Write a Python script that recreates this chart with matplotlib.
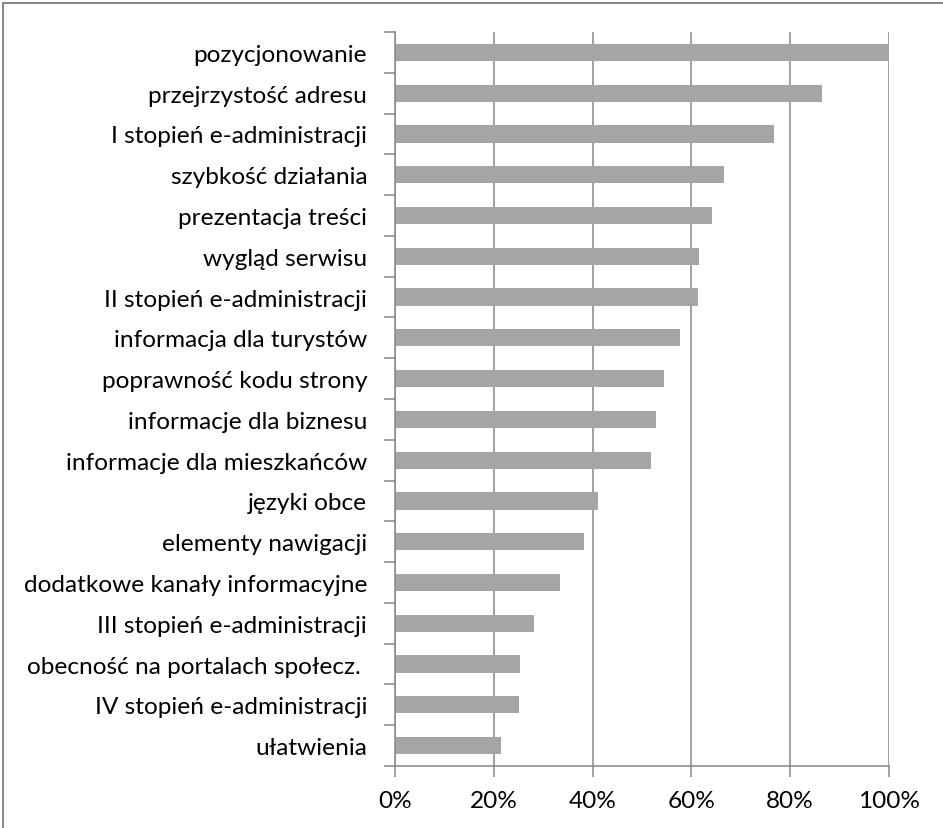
import matplotlib
matplotlib.use("Agg")
import matplotlib.pyplot as plt
from matplotlib.patches import Rectangle
from matplotlib.ticker import FixedLocator, PercentFormatter

categories = [
    "pozycjonowanie",
    "przejrzystość adresu",
    "I stopień e-administracji",
    "szybkość działania",
    "prezentacja treści",
    "wygląd serwisu",
    "II stopień e-administracji",
    "informacja dla turystów",
    "poprawność kodu strony",
    "informacje dla biznesu",
    "informacje dla mieszkańców",
    "języki obce",
    "elementy nawigacji",
    "dodatkowe kanały informacyjne",
    "III stopień e-administracji",
    "obecność na portalach społecz. ",
    "IV stopień e-administracji",
    "ułatwienia",
]
values = [100.0, 86.5, 76.7, 66.7, 64.1, 61.5, 61.4, 57.7, 54.4, 52.8,
          51.9, 41.1, 38.3, 33.4, 28.1, 25.4, 25.2, 21.5]
x_ticks = [0, 20, 40, 60, 80, 100]

W, H = 943, 829
plt.rcParams['font.family'] = ['Lato', 'DejaVu Sans']
fig = plt.figure(figsize=(W / 100, H / 100), dpi=100)
fig.patch.set_facecolor('white')

gray = '#868686'
ax = fig.add_axes([395 / W, 62 / H, (889 - 395) / W, (767 - 33) / H])

n = len(categories)
ypos = list(range(n))
ax.barh(ypos, values, height=0.42, color='#A5A5A5', zorder=3)
ax.set_ylim(n - 0.5, -0.5)
ax.set_xlim(0, 100)

ax.set_yticks(ypos)
ax.set_yticklabels(categories)
ax.yaxis.set_minor_locator(FixedLocator([i - 0.5 for i in range(n + 1)]))
ax.tick_params(axis='y', which='major', length=0, pad=20, labelsize=17.6, labelcolor='black')
ax.tick_params(axis='y', which='minor', length=8, width=1.1, color=gray, direction='out')

ax.set_xticks(x_ticks)
ax.xaxis.set_major_formatter(PercentFormatter(decimals=0))
ax.tick_params(axis='x', which='major', length=8, width=1.1, color=gray, direction='out',
               pad=9, labelsize=17.6, labelcolor='black')

ax.grid(axis='x', color=gray, linewidth=1.1, zorder=0)
ax.set_axisbelow(True)
for s in ['top', 'right']:
    ax.spines[s].set_visible(False)
for s in ['left', 'bottom']:
    ax.spines[s].set_color(gray)
    ax.spines[s].set_linewidth(1.1)
    ax.spines[s].set_zorder(4)

fig.add_artist(Rectangle((3 / W, -0.05), 1.1, (H - 4) / H + 0.05, transform=fig.transFigure,
                         fill=False, edgecolor=gray, linewidth=1.4, clip_on=False))

fig.savefig('out.png', dpi=100, facecolor='white')
